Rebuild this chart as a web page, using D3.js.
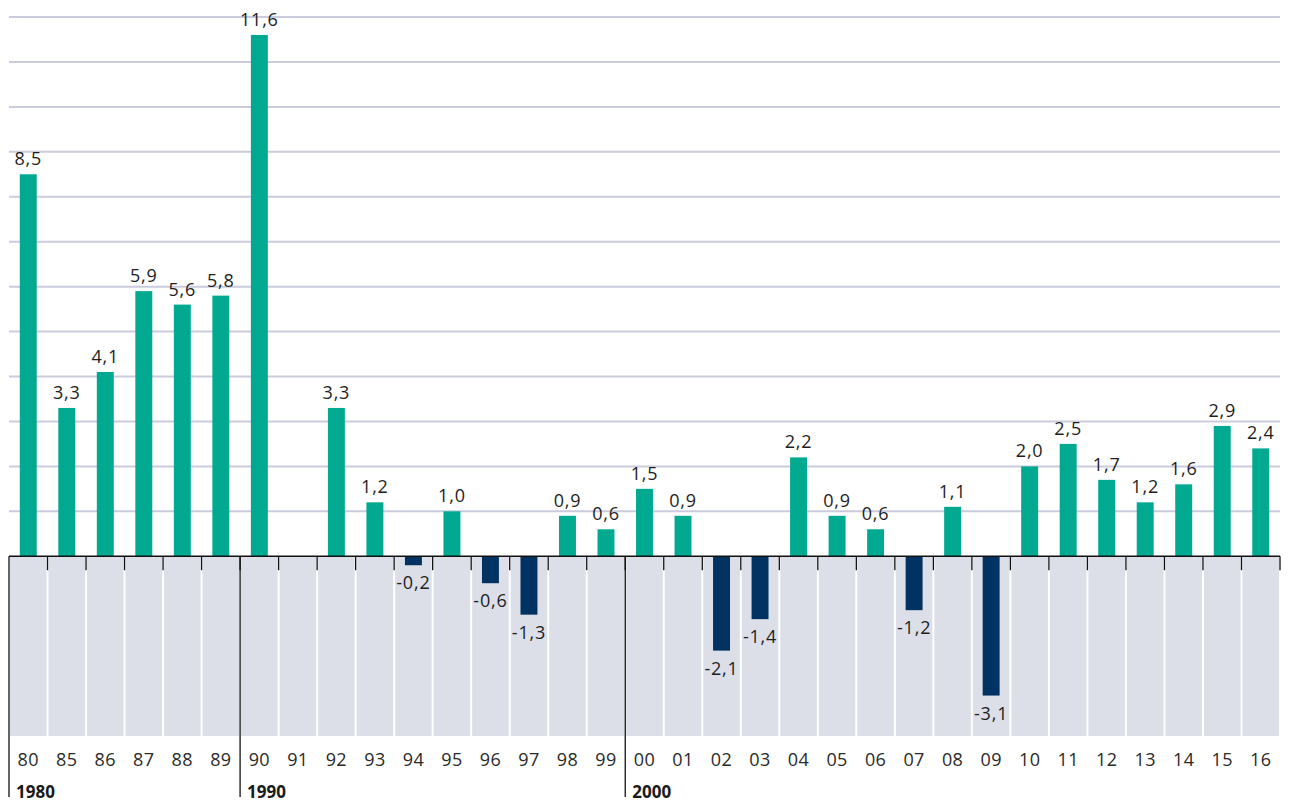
<!DOCTYPE html>
<html>
<head>
<meta charset="utf-8">
<script src="https://cdn.jsdelivr.net/npm/d3@7"></script>
<style>
  body, html { margin: 0; padding: 0; background: #fff; }
  svg { display: block; font-family: "Open Sans", sans-serif; }
  .val { font-size: 18px; letter-spacing: 0.8px; fill: #1e1e1e; }
  .yr { font-size: 18px; letter-spacing: 0.4px; fill: #2a2a2a; }
  .dec { font-size: 17px; font-weight: bold; fill: #1a1a1a; }
</style>
</head>
<body>
<svg id="chart" width="1289" height="802"></svg>
<script>
// years shown on the axis
var years = ["80","85","86","87","88","89","90","91","92","93","94","95","96","97","98","99",
             "00","01","02","03","04","05","06","07","08","09","10","11","12","13","14","15","16"];
// change in %, null = no value
var values = [8.5, 3.3, 4.1, 5.9, 5.6, 5.8, 11.6, null, 3.3, 1.2, -0.2, 1.0, -0.6, -1.3, 0.9, 0.6,
              1.5, 0.9, -2.1, -1.4, 2.2, 0.9, 0.6, -1.2, 1.1, -3.1, 2.0, 2.5, 1.7, 1.2, 1.6, 2.9, 2.4];
var decades = [{start: "80", label: "1980"}, {start: "90", label: "1990"}, {start: "00", label: "2000"}];
var gridVals = [1,2,3,4,5,6,7,8,9,10,11,12];

var svg = d3.select("#chart");
var x = d3.scaleBand().domain(years).range([9, 1280]).paddingInner(0).paddingOuter(0);
var y = d3.scaleLinear().domain([-4, 12]).range([736, 17]);
var bw = x.bandwidth() * 0.44;

// horizontal gridlines
svg.append("g").selectAll("line").data(gridVals).enter().append("line")
  .attr("x1", 9).attr("x2", 1280)
  .attr("y1", function(d) { return y(d); }).attr("y2", function(d) { return y(d); })
  .attr("stroke", "#cacbdc").attr("stroke-width", 2);

// grey area under zero
svg.append("g").selectAll("rect").data(years).enter().append("rect")
  .attr("x", function(d) { return x(d) + 1; })
  .attr("width", x.bandwidth() - 2)
  .attr("y", y(0)).attr("height", y(-4) - y(0))
  .attr("fill", "#dcdfe8");

var data = years.map(function(d, i) { return {year: d, v: values[i]}; })
  .filter(function(d) { return d.v !== null; });

// bars
svg.append("g").selectAll("rect").data(data).enter().append("rect")
  .attr("x", function(d) { return x(d.year) + (x.bandwidth() - bw) / 2; })
  .attr("width", bw)
  .attr("y", function(d) { return d.v >= 0 ? y(d.v) : y(0); })
  .attr("height", function(d) { return Math.abs(y(d.v) - y(0)); })
  .attr("fill", function(d) { return d.v >= 0 ? "#00a990" : "#003262"; });

// zero line
svg.append("line").attr("x1", 9).attr("x2", 1280).attr("y1", y(0)).attr("y2", y(0))
  .attr("stroke", "#111").attr("stroke-width", 1.5);

// small ticks at band edges
var edges = years.slice(1).map(function(d) { return x(d); }).concat([1280]);
svg.append("g").selectAll("line").data(edges).enter().append("line")
  .attr("x1", function(d) { return d; }).attr("x2", function(d) { return d; })
  .attr("y1", y(0)).attr("y2", y(0) + 14)
  .attr("stroke", "#111").attr("stroke-width", 1.3);

// decade separators
svg.append("g").selectAll("line").data(decades).enter().append("line")
  .attr("x1", function(d) { return x(d.start); }).attr("x2", function(d) { return x(d.start); })
  .attr("y1", y(0)).attr("y2", 797)
  .attr("stroke", "#111").attr("stroke-width", 1.3);

svg.append("g").selectAll("text").data(decades).enter().append("text")
  .attr("class", "dec")
  .attr("x", function(d) { return x(d.start) + 7; })
  .attr("y", 798)
  .text(function(d) { return d.label; });

// year labels
svg.append("g").selectAll("text").data(years).enter().append("text")
  .attr("class", "yr")
  .attr("x", function(d) { return x(d) + x.bandwidth() / 2; })
  .attr("y", 766)
  .attr("text-anchor", "middle")
  .text(function(d) { return d; });

// value labels
var fmt = function(v) { return v.toFixed(1).replace(".", ","); };
svg.append("g").selectAll("text").data(data).enter().append("text")
  .attr("class", "val")
  .attr("x", function(d) { return x(d.year) + x.bandwidth() / 2; })
  .attr("y", function(d) { return d.v >= 0 ? y(d.v) - 9 : y(d.v) + 24; })
  .attr("text-anchor", "middle")
  .text(function(d) { return fmt(d.v); });
</script>
</body>
</html>
